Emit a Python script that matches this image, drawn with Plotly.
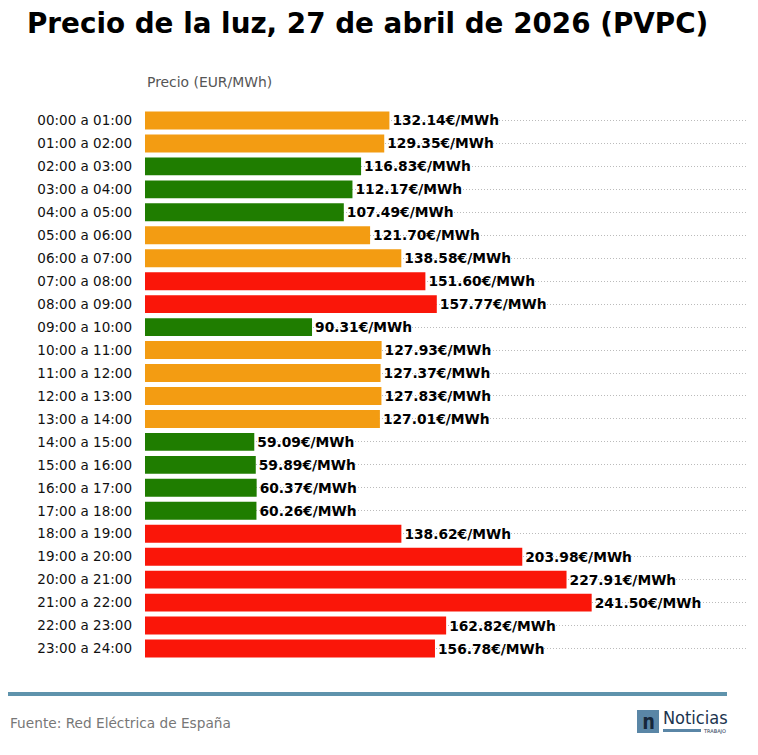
import plotly.graph_objects as go

horas = [f"{h:02d}:00 a {h+1:02d}:00" for h in range(24)]
precios = [132.14, 129.35, 116.83, 112.17, 107.49, 121.70, 138.58, 151.60,
           157.77, 90.31, 127.93, 127.37, 127.83, 127.01, 59.09, 59.89,
           60.37, 60.26, 138.62, 203.98, 227.91, 241.50, 162.82, 156.78]
niveles = ["medio", "medio", "bajo", "bajo", "bajo", "medio", "medio", "alto",
           "alto", "bajo", "medio", "medio", "medio", "medio", "bajo", "bajo",
           "bajo", "bajo", "alto", "alto", "alto", "alto", "alto", "alto"]
colores_nivel = {"bajo": "#1F7D00", "medio": "#F39C12", "alto": "#FA1609"}

W, H = 758, 755
ML, MR, MT, MB = 145, 10, 109, 95
PW, PH = W - ML - MR, H - MT - MB


def px(x):
    return (x - ML) / PW


def py(y):
    return (H - MB - y) / PH


FONT = "DejaVu Sans"

fig = go.Figure(go.Bar(
    x=precios,
    y=horas,
    orientation="h",
    marker=dict(color=[colores_nivel[n] for n in niveles], line=dict(width=0)),
    text=[f"{p:.2f}€/MWh" for p in precios],
    textposition="outside",
    textfont=dict(family="DejaVu Sans, sans-serif", size=13.8, color="#000000", weight="bold"),
    cliponaxis=False,
    hoverinfo="skip",
))

fig.update_layout(
    width=W, height=H,
    margin=dict(l=ML, r=MR, t=MT, b=MB),
    paper_bgcolor="white", plot_bgcolor="white",
    font=dict(family=FONT, color="#111111"),
    bargap=0.22,
    showlegend=False,
    title=dict(text="<b>Precio de la luz, 27 de abril de 2026 (PVPC)</b>",
               x=27 / W, xanchor="left", y=1 - 23 / H, yanchor="middle",
               font=dict(family=FONT, size=27.8, color="#000000")),
    xaxis=dict(range=[0, max(precios) * 1.35], showticklabels=False, showgrid=False,
               zeroline=False, showline=False, ticks=""),
    yaxis=dict(autorange="reversed", showgrid=True, gridcolor="#BBBBBB", griddash="1px,2px",
               gridwidth=1, ticks="", showline=False, zeroline=False,
               tickfont=dict(family=FONT, size=13.5, color="#111111"), ticklabelstandoff=12),
)

annotations = [
    dict(text="Precio (EUR/MWh)", x=px(145), y=py(82), xref="paper", yref="paper",
         xanchor="left", yanchor="middle", showarrow=False,
         font=dict(family=FONT, size=13.9, color="#555555")),
    dict(text="Fuente: Red Eléctrica de España", x=px(8), y=py(723), xref="paper", yref="paper",
         xanchor="left", yanchor="middle", showarrow=False,
         font=dict(family=FONT, size=13.7, color="#777777")),
    dict(text="Noticias", x=px(661), y=py(718), xref="paper", yref="paper",
         xanchor="left", yanchor="middle", showarrow=False,
         font=dict(family="DejaVu Sans Condensed, Liberation Sans Narrow, DejaVu Sans", size=18,
                   color="#1C3550")),
    dict(text="TRABAJO", x=px(728), y=py(730.5), xref="paper", yref="paper",
         xanchor="right", yanchor="middle", showarrow=False,
         font=dict(family=FONT, size=5, color="#1C3550")),
    dict(text="<b>n</b>", x=px(648), y=py(721), xref="paper", yref="paper",
         xanchor="center", yanchor="middle", showarrow=False,
         font=dict(family="DejaVu Sans Mono", size=22, color="#16273A")),
]

shapes = [
    dict(type="line", xref="paper", yref="paper", x0=px(8), x1=px(727), y0=py(694), y1=py(694),
         line=dict(color="#5F93AC", width=4)),
    dict(type="rect", xref="paper", yref="paper", x0=px(637), x1=px(659), y0=py(733), y1=py(710),
         fillcolor="#5A86A6", line=dict(width=0)),
    dict(type="rect", xref="paper", yref="paper", x0=px(663), x1=px(701), y0=py(732), y1=py(729),
         fillcolor="#5A86A6", line=dict(width=0)),
]

fig.update_layout(annotations=annotations, shapes=shapes)
fig.write_html("out.html", config={"displayModeBar": False},
               post_script="document.body.style.margin='0px';document.body.style.overflow='hidden';")
